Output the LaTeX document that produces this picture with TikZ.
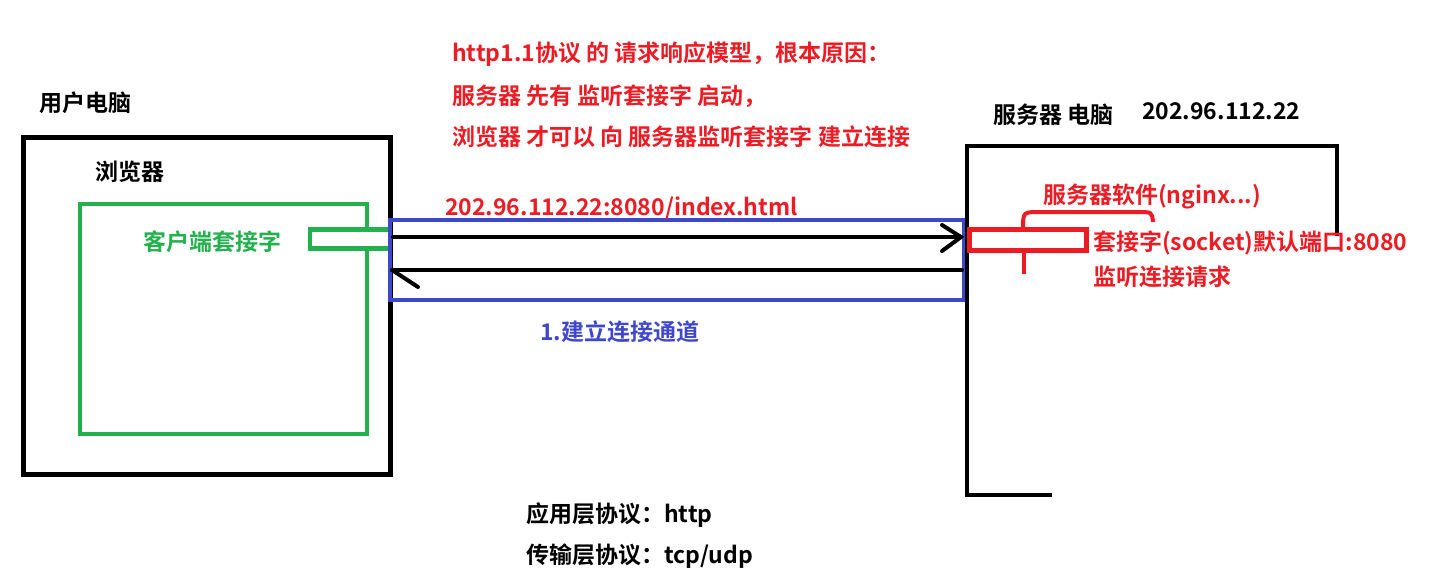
\documentclass[tikz,border=0pt]{standalone}
\usepackage{fontspec}
\setmainfont{Noto Sans CJK SC Bold}
\definecolor{pred}{RGB}{237,28,36}
\definecolor{pgreen}{RGB}{34,177,76}
\definecolor{pblue}{RGB}{63,72,204}
\begin{document}
\begin{tikzpicture}[x=1pt,y=-1pt,
  lbl/.style={anchor=west,inner sep=0pt,font=\fontsize{23}{27}\selectfont},
  thick4/.style={line width=4.5pt},
  box/.style={draw,thick4,inner sep=0pt},
  arr/.style={line width=4pt,line cap=round}]
\useasboundingbox (0,0) rectangle (1442,582);
% user computer
\node[box,black,minimum width=367pt,minimum height=337pt] (user) at (207,306) {};
\node[box,pgreen,minimum width=287pt,minimum height=230pt] (browser) at (223.5,319) {};
\node[box,pgreen,minimum width=80pt,minimum height=19pt,fill=white] (csock) at (350,239) {};
\node[box,pblue,minimum width=574pt,minimum height=80pt] (chan) at (677,260) {};
% server computer
\coordinate (s1) at (1052,495);
\coordinate (s2) at (967,495);
\coordinate (s3) at (967,146);
\coordinate (s4) at (1337,146);
\coordinate (s5) at (1337,236);
\draw[thick4,black] (s1) -- (s2) -- (s3) -- (s4) -- (s5);
% red socket
\node[box,pred,line width=5pt,minimum width=117pt,minimum height=21pt] (ssock) at (1027.5,240) {};
\coordinate (b1) at (1023,229);
\coordinate (b2) at (1040,212);
\coordinate (b3) at (1137,212);
\coordinate (b4) at (1153,222);
\draw[line width=4pt,pred] (b1) .. controls (1023,212) .. (b2) -- (b3) .. controls (1152,212) .. (b4);
\coordinate (t1) at (1024,251);
\coordinate (t2) at (1024,274);
\draw[line width=4pt,pred] (t1) -- (t2);
% arrows
\coordinate (a1s) at (393,237);
\coordinate (a1e) at (961,237);
\draw[arr] (a1s) -- (a1e);
\coordinate (a1u) at (942,225);
\coordinate (a1d) at (942,251);
\draw[arr] (a1u) -- (a1e) -- (a1d);
\coordinate (a2s) at (962,270);
\coordinate (a2e) at (392,270);
\draw[arr] (a2s) -- (a2e);
\coordinate (a2d) at (418,287);
\draw[arr] (a2e) -- (a2d);
% texts
\node[lbl] (tuser) at (39,103) {用户电脑};
\node[lbl] (tbrowser) at (95,172) {浏览器};
\node[lbl,text=pgreen] (tcsock) at (143,242) {客户端套接字};
\node[lbl,text=pred] (title1) at (452,54) {http1.1协议 的 请求响应模型，根本原因：};
\node[lbl,text=pred] (title2) at (452,96) {服务器 先有 监听套接字 启动，};
\node[lbl,text=pred] (title3) at (452,137) {浏览器 才可以 向 服务器监听套接字 建立连接};
\node[lbl,text=pred] (url) at (445,208) {202.96.112.22:8080/index.html};
\node[lbl] (tserver) at (993,115) {服务器 电脑};
\node[lbl] (tip) at (1142,111) {202.96.112.22};
\node[lbl,text=pred] (tsoft) at (1043,197) {服务器软件(nginx...)};
\node[lbl,text=pred] (tssock) at (1093,243) {套接字(socket)默认端口:8080};
\node[lbl,text=pred] (tlisten) at (1093,277) {监听连接请求};
\node[lbl,text=pblue] (tchan) at (540,332) {1.建立连接通道};
\node[lbl] (tapp) at (526,515) {应用层协议：http};
\node[lbl] (ttrans) at (526,556) {传输层协议：tcp/udp};
\end{tikzpicture}
\end{document}
